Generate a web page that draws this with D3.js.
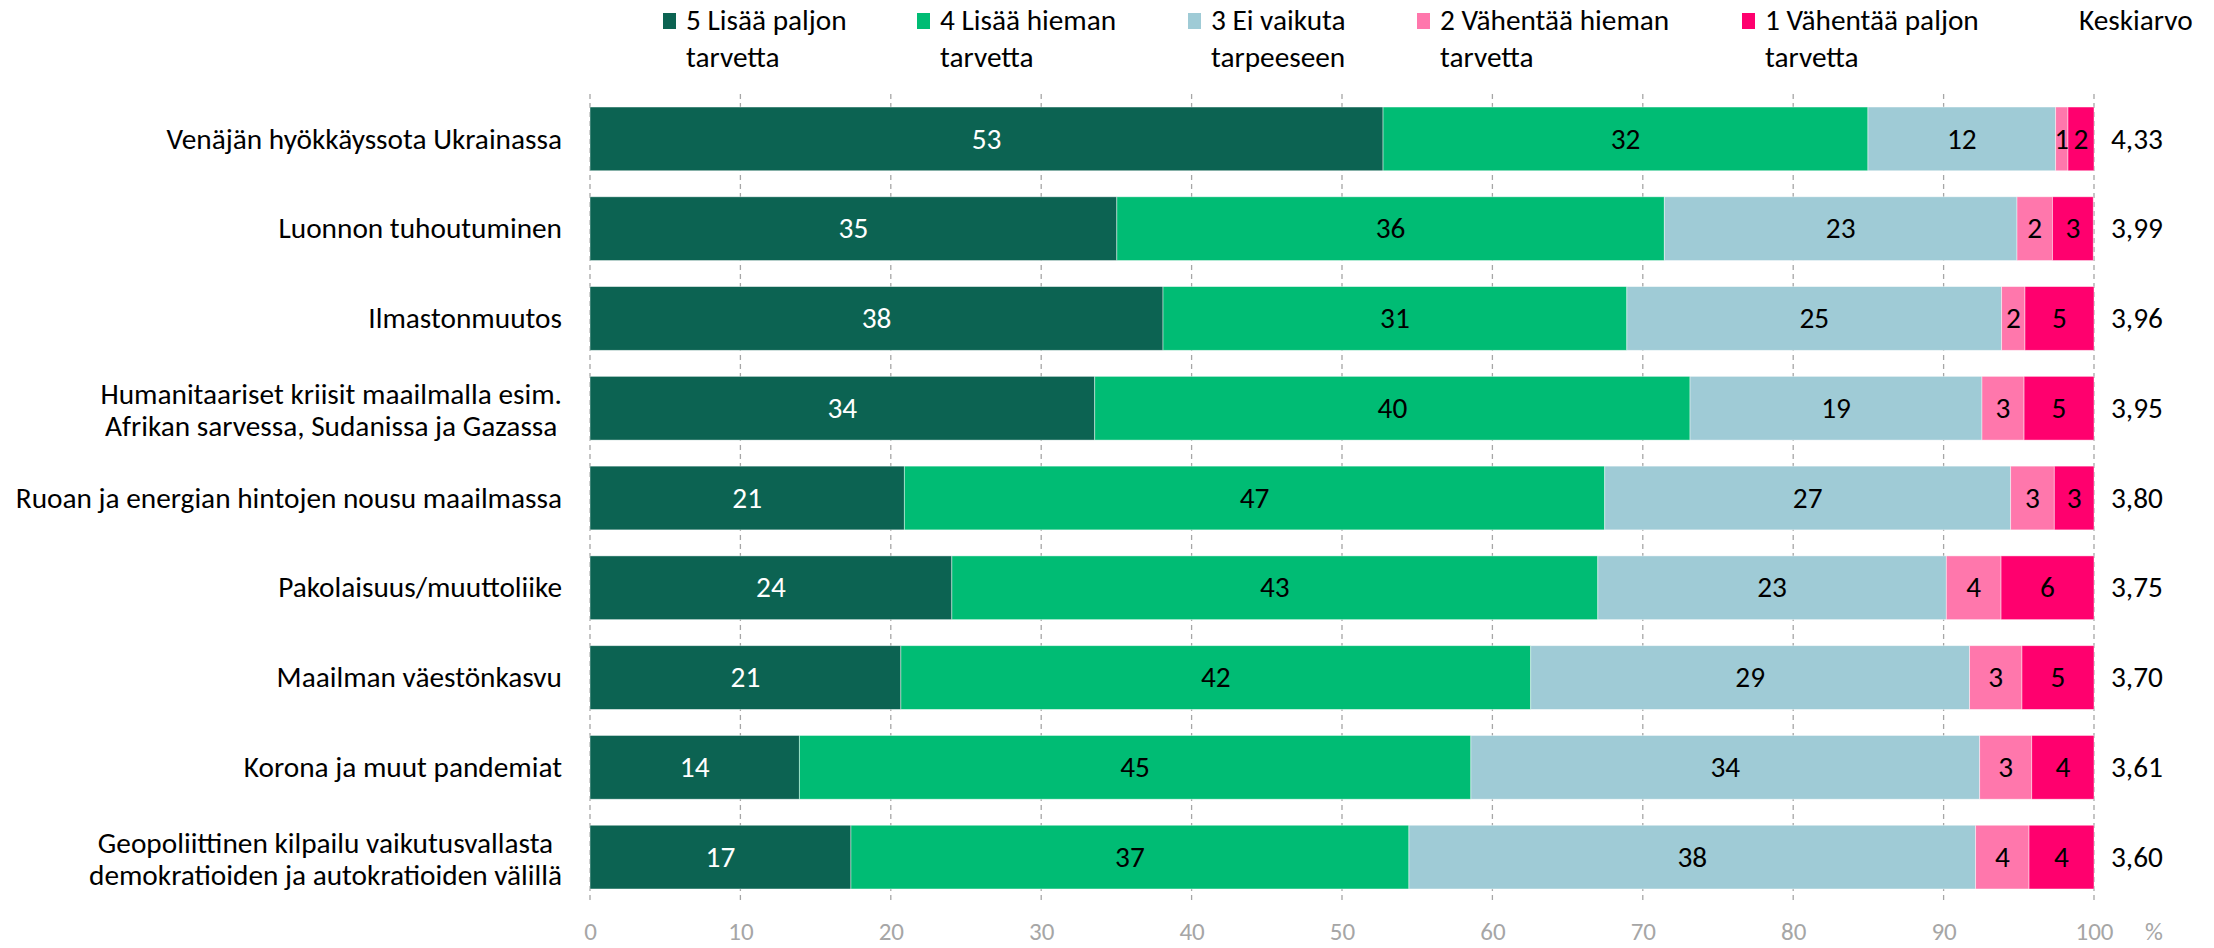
<!DOCTYPE html>
<html><head><meta charset="utf-8">
<script src="https://cdn.jsdelivr.net/npm/d3@7"></script>
<style>body{margin:0;background:#fff;overflow:hidden} text{font-family:Carlito,Calibri,"Open Sans",sans-serif}</style>
</head><body><svg id="c" width="2214" height="948"></svg>
<script>
// ---- data ----
const categories = [
  ["Venäjän hyökkäyssota Ukrainassa"],
  ["Luonnon tuhoutuminen"],
  ["Ilmastonmuutos"],
  ["Humanitaariset kriisit maailmalla esim.", "Afrikan sarvessa, Sudanissa ja Gazassa"],
  ["Ruoan ja energian hintojen nousu maailmassa"],
  ["Pakolaisuus/muuttoliike"],
  ["Maailman väestönkasvu"],
  ["Korona ja muut pandemiat"],
  ["Geopoliittinen kilpailu vaikutusvallasta", "demokratioiden ja autokratioiden välillä"]
];
const s5 = [52.73, 35.03, 38.10, 33.56, 20.90, 24.06, 20.67, 13.92, 17.35];
const s4 = [32.24, 36.40, 30.84, 39.58, 46.57, 42.95, 41.88, 44.65, 37.10];
const s3 = [12.48, 23.45, 24.92, 19.41, 26.99, 23.17, 29.18, 33.83, 37.68];
const s2 = [0.82, 2.36, 1.55, 2.80, 2.90, 3.64, 3.48, 3.46, 3.55];
const s1 = [1.73, 2.71, 4.59, 4.65, 2.64, 6.18, 4.79, 4.14, 4.32];
const means = ["4,33", "3,99", "3,96", "3,95", "3,80", "3,75", "3,70", "3,61", "3,60"];
const seriesNames = [
  ["5 Lisää paljon", "tarvetta"],
  ["4 Lisää hieman", "tarvetta"],
  ["3 Ei vaikuta", "tarpeeseen"],
  ["2 Vähentää hieman", "tarvetta"],
  ["1 Vähentää paljon", "tarvetta"]
];
const meanTitle = "Keskiarvo";
const tickValues = [0, 10, 20, 30, 40, 50, 60, 70, 80, 90, 100];
const unitLabel = "%";

// ---- styles ----
const colors = ["#0C6352", "#00BC74", "#9FCBD6", "#FF77AC", "#FF006E"];
const textColors = ["#FFFFFF", "#000000", "#000000", "#000000", "#000000"];
const FS = 29.3;
const FS_TICK = 25;
const svg = d3.select("#c");

const keys = ["s5", "s4", "s3", "s2", "s1"];
const seriesArr = [s5, s4, s3, s2, s1];
const rows = categories.map((c, i) => {
  const o = {id: i};
  keys.forEach((k, j) => o[k] = seriesArr[j][i]);
  return o;
});
const stacked = d3.stack().keys(keys)(rows);

const x = d3.scaleLinear().domain([0, 100]).range([590, 2094]);
const y = d3.scaleBand().domain(d3.range(categories.length)).range([94, 902])
  .paddingInner(0.29).paddingOuter(0.145);

// gridlines
svg.append("g").selectAll("line").data(tickValues).join("line")
  .attr("x1", d => x(d)).attr("x2", d => x(d))
  .attr("y1", 94).attr("y2", 902)
  .attr("stroke", "#A6A6A6").attr("stroke-width", 1.3)
  .attr("stroke-dasharray", "5,4");

// bars
const g = svg.append("g");
stacked.forEach((layer, li) => {
  const lg = g.append("g");
  lg.selectAll("rect").data(layer).join("rect")
    .attr("x", d => x(d[0]))
    .attr("width", d => x(d[1]) - x(d[0]))
    .attr("y", (d, i) => y(i))
    .attr("height", y.bandwidth())
    .attr("fill", colors[li])
    .attr("stroke", "#fff").attr("stroke-opacity", 0.55).attr("stroke-width", 0.8);
  lg.selectAll("text").data(layer).join("text")
    .attr("x", d => (x(d[0]) + x(d[1])) / 2)
    .attr("y", (d, i) => y(i) + y.bandwidth() / 2)
    .attr("dy", "0.33em")
    .attr("text-anchor", "middle")
    .attr("font-size", FS)
    .attr("fill", textColors[li])
    .text(d => Math.round(d[1] - d[0]));
});

// category labels
const lineH = 32;
categories.forEach((lines, i) => {
  const cy = y(i) + y.bandwidth() / 2;
  const t = svg.append("g");
  const texts = lines.map((ln, k) => t.append("text")
    .attr("font-size", FS).attr("fill", "#000")
    .attr("y", cy + (k - (lines.length - 1) / 2) * lineH + (lines.length > 1 ? 2 : 0))
    .attr("dy", "0.33em")
    .attr("text-anchor", "middle")
    .text(ln));
  const maxW = d3.max(texts, tx => tx.node().getComputedTextLength());
  texts.forEach(tx => tx.attr("x", 562 - maxW / 2));
});

// means
svg.append("g").selectAll("text").data(means).join("text")
  .attr("x", 2111)
  .attr("y", (d, i) => y(i) + y.bandwidth() / 2)
  .attr("dy", "0.33em")
  .attr("font-size", FS).attr("fill", "#000")
  .text(d => d);

// x axis tick labels
const axis = d3.axisBottom(x).tickValues(tickValues).tickSize(0).tickPadding(0).tickFormat(d3.format("d"));
const ax = svg.append("g").attr("transform", "translate(0,926)").call(axis);
ax.select(".domain").remove();
ax.selectAll("text").attr("font-size", FS_TICK).attr("fill", "#A6A6A6")
  .attr("font-family", null).attr("dy", null).attr("y", 14);
svg.append("text").attr("x", 2154).attr("y", 940).attr("text-anchor", "middle")
  .attr("font-size", FS_TICK).attr("fill", "#A6A6A6").text(unitLabel);

// legend
const legX = [663, 917, 1188, 1417, 1742];
const leg = svg.append("g");
seriesNames.forEach((lines, i) => {
  const lgI = leg.append("g").attr("transform", `translate(${legX[i]},0)`);
  lgI.append("rect").attr("x", 0).attr("y", 13).attr("width", 13).attr("height", 16)
    .attr("fill", colors[i]);
  lines.forEach((ln, k) => lgI.append("text").attr("x", 23).attr("y", 30 + k * 37)
    .attr("font-size", FS).attr("fill", "#000").text(ln));
});
svg.append("text").attr("x", 2079).attr("y", 30).attr("font-size", FS).attr("fill", "#000").text(meanTitle);
</script>
</body></html>
